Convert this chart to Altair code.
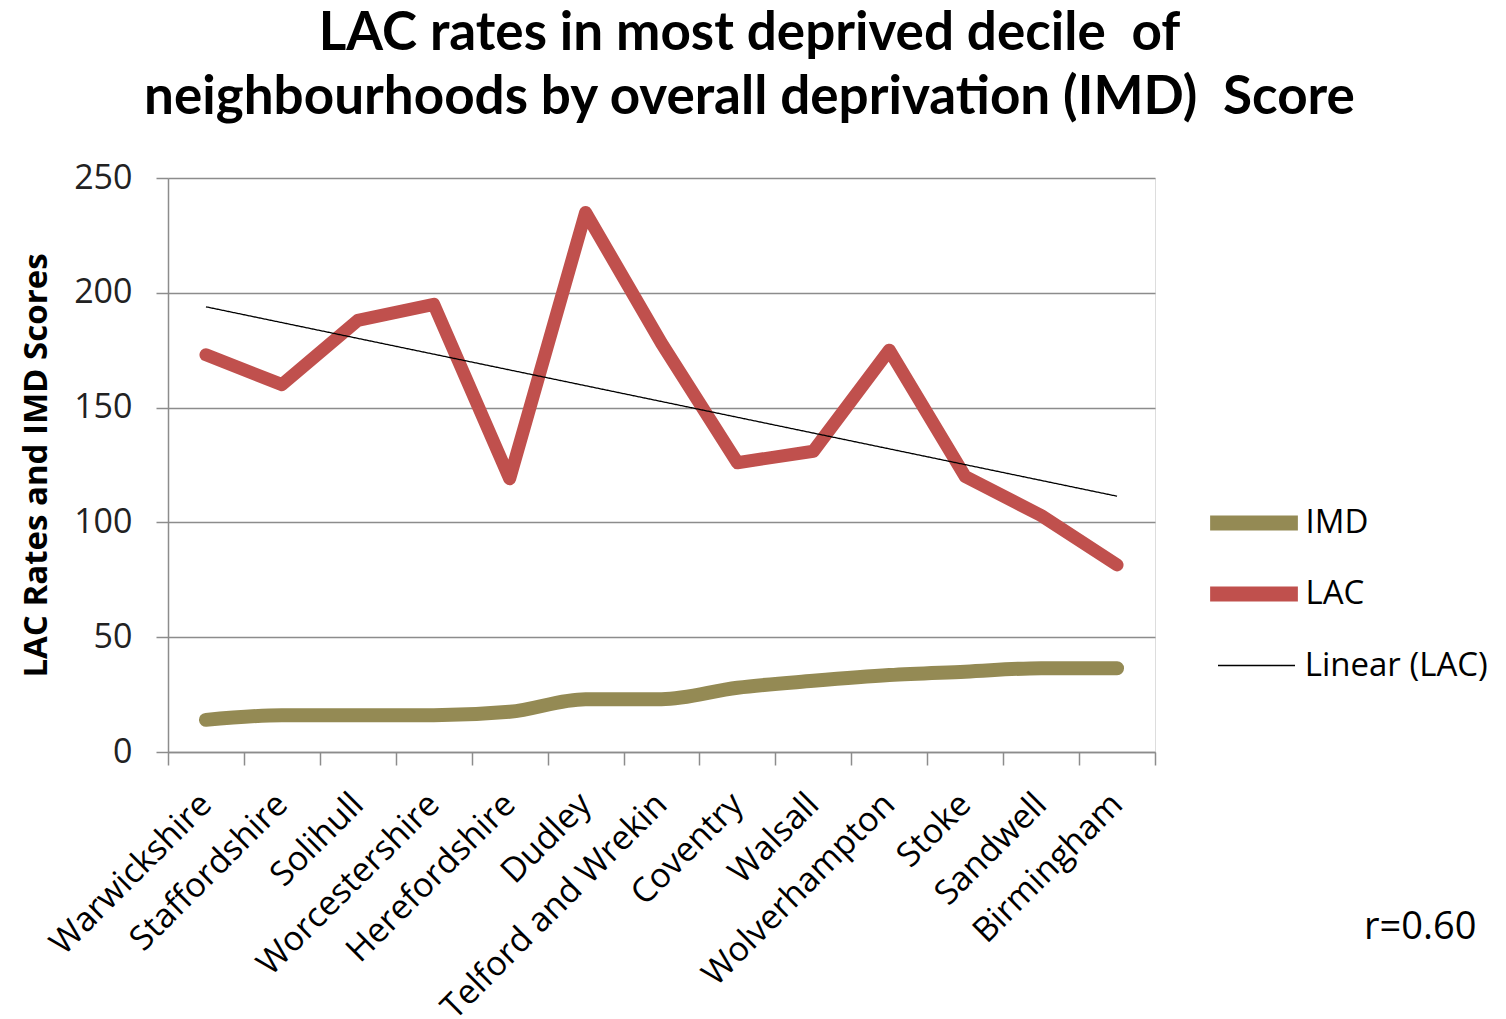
import altair as alt
import pandas as pd

names = ["Warwickshire", "Staffordshire", "Solihull", "Worcestershire", "Herefordshire",
         "Dudley", "Telford and Wrekin", "Coventry", "Walsall", "Wolverhampton",
         "Stoke", "Sandwell", "Birmingham"]
lac = [173, 160, 188, 195, 119, 235, 178, 126, 131, 175, 120, 103, 81.5]
imd = [14, 16, 16, 16, 17.5, 23, 23, 28, 31, 33.5, 35, 36.5, 36.5]
series = ["IMD", "LAC", "Linear (LAC)"]
colors = ["#948a54", "#c0504d", "#000000"]

df = pd.DataFrame({"name": names, "idx": list(range(len(names))), "IMD": imd, "LAC": lac})

AX_FONT = "Open Sans"
names_js = "[" + ",".join("'" + n + "'" for n in names) + "]"

xenc = alt.X("name:N", sort=names, bandPosition=0.5,
             scale=alt.Scale(type="band", paddingInner=0, paddingOuter=0),
             axis=alt.Axis(title=None, tickBand="extent", labelAngle=-45, labelAlign="right",
                           labelBaseline="middle", labelFontSize=34, labelFont=AX_FONT,
                           labelColor="#000", labelPadding=34, tickSize=13, tickColor="#8c8c8c",
                           domainColor="#8c8c8c", tickWidth=1.5, domainWidth=1.5, grid=False,
                           labelLimit=400))
yscale = alt.Scale(domain=[0, 250])
yaxis = alt.Axis(values=[0, 50, 100, 150, 200, 250], title="LAC Rates and IMD Scores",
                 titleFont=AX_FONT, titleFontSize=33, titleFontWeight="bold", titleColor="#000",
                 titlePadding=20, labelFont=AX_FONT, labelFontSize=34, labelColor="#222",
                 labelPadding=24, tickSize=12, tickColor="#8c8c8c", domainColor="#8c8c8c",
                 gridColor="#8c8c8c", tickWidth=1.5, domainWidth=1.5, gridWidth=1.3)


def leg(x, y, size, sw, off, col):
    return alt.Legend(title=None, orient="none", legendX=x, legendY=y, symbolType="stroke",
                      symbolSize=size, labelFont=AX_FONT, labelFontSize=33, labelColor="#000",
                      labelOffset=off, labelLimit=400, symbolStrokeWidth=sw,
                      symbolStrokeColor=col)


imd_enc = alt.Color("s_imd:N", scale=alt.Scale(domain=[series[0]], range=[colors[0]]),
                    legend=leg(1034.5, 293.5, 7700, 15, 0, colors[0]))
lac_enc = alt.Opacity("s_lac:N", scale=alt.Scale(domain=[series[1]], range=[1, 1]),
                      legend=leg(1034.5, 364.5, 7700, 15, 0, colors[1]))
lin_enc = alt.StrokeDash("s_lin:N", scale=alt.Scale(domain=[series[2]], range=[[1, 0]]),
                         legend=leg(1049, 448, 5929, 1.3, 8.7, colors[2]))

base = alt.Chart(df)

imd_line = base.transform_calculate(s_imd="'IMD'").mark_line(
    strokeCap="round", strokeJoin="round", interpolate="monotone", strokeWidth=14).encode(
    x=xenc, y=alt.Y("IMD:Q", scale=yscale, axis=yaxis), color=imd_enc)

lac_line = base.transform_calculate(s_lac="'LAC'").mark_line(
    strokeCap="round", strokeJoin="round", strokeWidth=13, color=colors[1]).encode(
    x=xenc, y=alt.Y("LAC:Q", scale=yscale, axis=yaxis), opacity=lac_enc)

trend = base.transform_regression("idx", "LAC", extent=[0, len(names) - 1]).transform_calculate(
    name=names_js + "[round(datum.idx)]", s_lin="'Linear (LAC)'").mark_line(
    strokeWidth=1.3, color=colors[2]).encode(
    x=xenc, y=alt.Y("LAC:Q", scale=yscale, axis=yaxis), strokeDash=lin_enc)

rlabel = alt.Chart(pd.DataFrame({"t": ["r=0.60"]})).mark_text(
    font=AX_FONT, fontSize=38, align="left", baseline="middle", color="#000").encode(
    text="t:N", x=alt.value(1196), y=alt.value(750))

chart = alt.layer(imd_line, lac_line, trend, rlabel).properties(
    width=987, height=574,
    title=alt.Title(["LAC rates in most deprived decile\u00a0 of",
                     "neighbourhoods by overall deprivation (IMD)\u00a0 Score"],
                    font="Lato", fontSize=53, fontWeight="bold", color="#000",
                    lineHeight=64, offset=36, dx=88, anchor="middle"),
    autosize=alt.AutoSizeParams(type="none"),
    padding={"left": 168, "top": 178, "right": 351, "bottom": 267},
).configure_view(stroke=None).configure(background="white")

chart.save("out.html", embed_options={"renderer": "svg", "actions": False})
